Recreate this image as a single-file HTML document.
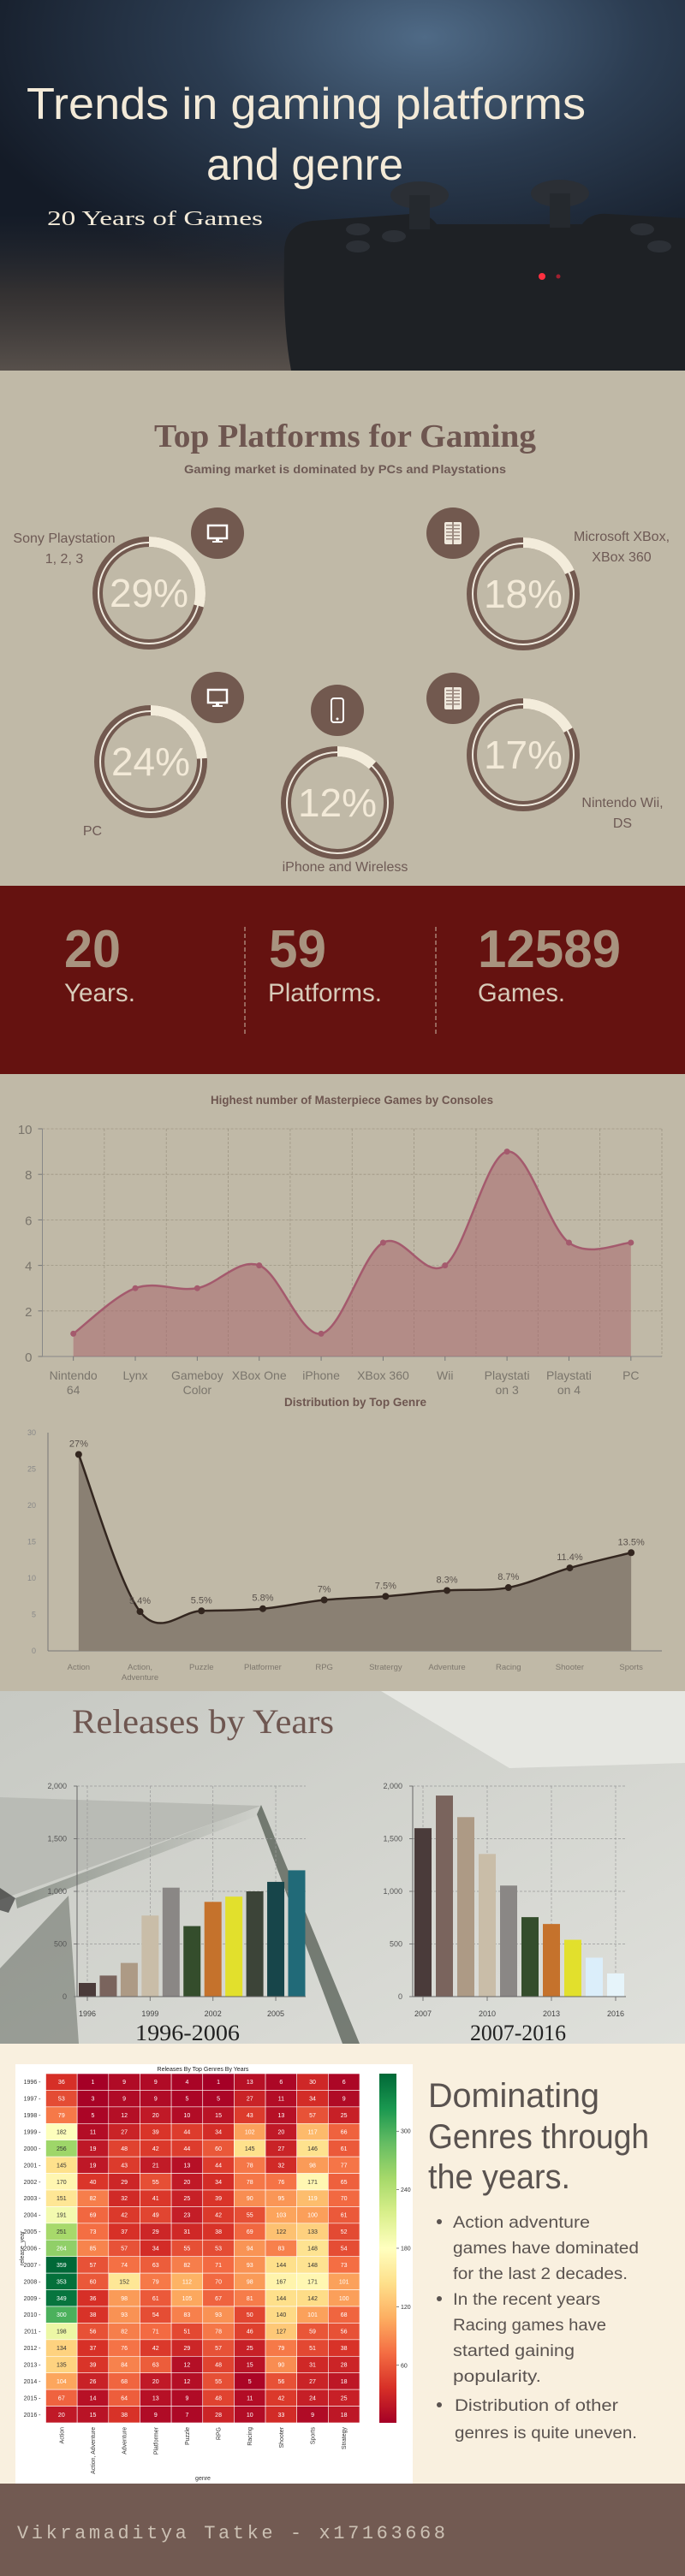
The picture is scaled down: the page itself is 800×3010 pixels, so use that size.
<!DOCTYPE html>
<html><head><meta charset="utf-8"><title>Trends in gaming platforms and genre</title>
<style>
html,body{margin:0;padding:0;background:#c0b9a7;}
svg{display:block;}
</style></head>
<body>
<svg id="page" width="800" height="3010" viewBox="0 0 800 3010" xmlns="http://www.w3.org/2000/svg" font-family="'Liberation Sans',sans-serif">
<defs>
<radialGradient id="hdrGlow" cx="0.62" cy="0.1" r="0.7">
<stop offset="0" stop-color="#4f6a86"/><stop offset="0.45" stop-color="#2c3d52"/><stop offset="1" stop-color="#141b27"/>
</radialGradient>
<linearGradient id="floor" x1="0" y1="0" x2="0" y2="1">
<stop offset="0" stop-color="#2a2d33" stop-opacity="0"/><stop offset="0.5" stop-color="#3b3634" stop-opacity="0.8"/><stop offset="1" stop-color="#57504b"/>
</linearGradient>
<linearGradient id="paper" x1="0" y1="0" x2="1" y2="1">
<stop offset="0" stop-color="#c7c9c3"/><stop offset="1" stop-color="#dfe0db"/>
</linearGradient>
<linearGradient id="shade" x1="0" y1="0" x2="1" y2="0">
<stop offset="0" stop-color="#1d2a1d" stop-opacity="0.7"/><stop offset="1" stop-color="#1d2a1d" stop-opacity="0"/>
</linearGradient>
<linearGradient id="cbar" x1="0" y1="1" x2="0" y2="0">
<stop offset="0" stop-color="#a50026"/><stop offset="0.1" stop-color="#d73027"/><stop offset="0.2" stop-color="#f46d43"/><stop offset="0.3" stop-color="#fdae61"/><stop offset="0.4" stop-color="#fee08b"/><stop offset="0.5" stop-color="#ffffbf"/><stop offset="0.6" stop-color="#d9ef8b"/><stop offset="0.7" stop-color="#a6d96a"/><stop offset="0.8" stop-color="#66bd63"/><stop offset="0.9" stop-color="#1a9850"/><stop offset="1" stop-color="#006837"/>
</linearGradient>
</defs>

<!-- HEADER -->
<g>
<rect x="0" y="0" width="800" height="433" fill="url(#hdrGlow)"/>
<rect x="0" y="250" width="800" height="183" fill="url(#floor)"/>
<g fill="#1e2125">
<path d="M332 300 Q330 262 365 258 L480 250 Q500 248 510 262 L680 262 Q690 248 710 250 L800 255 L800 433 L340 433 Q330 380 332 300 Z"/>
<ellipse cx="490" cy="228" rx="34" ry="16" fill="#2b2f35"/><rect x="478" y="228" width="24" height="40" fill="#25292e"/>
<ellipse cx="654" cy="226" rx="34" ry="16" fill="#2b2f35"/><rect x="642" y="226" width="24" height="40" fill="#25292e"/>
<ellipse cx="418" cy="268" rx="14" ry="7" fill="#2c3036"/><ellipse cx="460" cy="276" rx="14" ry="7" fill="#2c3036"/><ellipse cx="418" cy="288" rx="14" ry="7" fill="#2c3036"/>
<ellipse cx="750" cy="268" rx="14" ry="7" fill="#2c3036"/><ellipse cx="770" cy="288" rx="14" ry="7" fill="#2c3036"/>
<circle cx="633" cy="323" r="4" fill="#ff3040"/><circle cx="652" cy="323" r="2.5" fill="#a02030"/>
</g>
<text x="31" y="139" font-family="'Liberation Sans Narrow','Liberation Sans',sans-serif" font-size="52" fill="#f3ead8" textLength="653" lengthAdjust="spacingAndGlyphs">Trends in gaming platforms</text>
<text x="241" y="210" font-family="'Liberation Sans Narrow','Liberation Sans',sans-serif" font-size="52" fill="#f3ead8" textLength="230" lengthAdjust="spacingAndGlyphs">and genre</text>
<text x="55" y="263" font-family="'Liberation Serif',serif" font-size="24" fill="#f3ead8" textLength="252" lengthAdjust="spacingAndGlyphs">20 Years of Games</text>
</g>

<!-- PLATFORMS -->
<g>
<rect x="0" y="433" width="800" height="603" fill="#c0b9a7"/>
<text x="403" y="522" text-anchor="middle" font-family="'Liberation Serif',serif" font-weight="bold" font-size="38" fill="#6e5650" textLength="446" lengthAdjust="spacingAndGlyphs">Top Platforms for Gaming</text>
<text x="403" y="553" text-anchor="middle" font-size="14" font-weight="bold" fill="#6e5a55" textLength="376" lengthAdjust="spacingAndGlyphs">Gaming market is dominated by PCs and Playstations</text>
<g id="donuts"></g>
</g>

<!-- STATS -->
<g>
<rect x="0" y="1035" width="800" height="220" fill="#651210"/>
<line x1="286" y1="1083" x2="286" y2="1209" stroke="#cbb9a8" stroke-dasharray="5 3" stroke-width="1"/>
<line x1="509" y1="1083" x2="509" y2="1209" stroke="#cbb9a8" stroke-dasharray="5 3" stroke-width="1"/>
<text x="75" y="1130" font-size="62" font-weight="bold" fill="#a8937f" textLength="66" lengthAdjust="spacingAndGlyphs">20</text>
<text x="75" y="1170" font-size="30" fill="#d8cbb9" textLength="83" lengthAdjust="spacingAndGlyphs">Years.</text>
<text x="314" y="1130" font-size="62" font-weight="bold" fill="#a8937f" textLength="67" lengthAdjust="spacingAndGlyphs">59</text>
<text x="313" y="1170" font-size="30" fill="#d8cbb9" textLength="133" lengthAdjust="spacingAndGlyphs">Platforms.</text>
<text x="558" y="1130" font-size="62" font-weight="bold" fill="#a8937f" textLength="167" lengthAdjust="spacingAndGlyphs">12589</text>
<text x="558" y="1170" font-size="30" fill="#d8cbb9" textLength="102" lengthAdjust="spacingAndGlyphs">Games.</text>
</g>

<!-- CHARTS -->
<g>
<rect x="0" y="1255" width="800" height="721" fill="#c0b9a7"/>
<text x="411" y="1290" text-anchor="middle" font-size="14" font-weight="bold" fill="#6e5650" textLength="330" lengthAdjust="spacingAndGlyphs">Highest number of Masterpiece Games by Consoles</text>
<g id="chart1"></g>
<text x="415" y="1643" text-anchor="middle" font-size="14" font-weight="bold" fill="#6e5650" textLength="166" lengthAdjust="spacingAndGlyphs">Distribution by Top Genre</text>
<g id="chart2"></g>
</g>

<!-- RELEASES -->
<g>
<rect x="0" y="1976" width="800" height="412" fill="url(#paper)"/>
<polygon points="0,2100 305,2110 0,2220" fill="#b9bbb5"/>
<polygon points="445,1976 800,1976 800,2060 595,2066" fill="#e6e7e2"/>
<polygon points="18,2218 305,2109 310,2118 20,2230" fill="url(#shade)" opacity="0.5"/>
<polygon points="305,2109 420,2388 400,2388 300,2120" fill="#243024" opacity="0.55"/>
<polygon points="0,2300 80,2215 92,2388 0,2388" fill="#2a3328" opacity="0.35"/>
<polygon points="0,2206 18,2218 10,2235 0,2232" fill="#1a1a1a" opacity="0.6"/>
<text x="84" y="2025" font-family="'Liberation Serif',serif" font-size="40" fill="#6e5650" textLength="306" lengthAdjust="spacingAndGlyphs">Releases by Years</text>
<g id="relL"></g>
<g id="relR"></g>
<text x="219" y="2384" text-anchor="middle" font-family="'Liberation Serif',serif" font-size="26" fill="#222" textLength="122" lengthAdjust="spacingAndGlyphs">1996-2006</text>
<text x="605" y="2384" text-anchor="middle" font-family="'Liberation Serif',serif" font-size="26" fill="#222" textLength="112" lengthAdjust="spacingAndGlyphs">2007-2016</text>
</g>

<!-- HEATMAP SECTION -->
<g>
<rect x="0" y="2388" width="800" height="514" fill="#f9f0df"/>
<rect x="18" y="2412" width="464" height="490" fill="#ffffff"/>
<text x="237" y="2420" text-anchor="middle" font-size="7" fill="#222">Releases By Top Genres By Years</text>
<g id="heat"></g>
<rect x="443" y="2423" width="20" height="408" fill="url(#cbar)"/>
<g id="cbticks"></g>
<text transform="translate(28,2627) rotate(-90)" text-anchor="middle" font-size="7" fill="#333">release_year</text>
<text x="237" y="2898" text-anchor="middle" font-size="7" fill="#333">genre</text>
<g font-size="40" fill="#5a5350">
<text x="500" y="2462" textLength="200" lengthAdjust="spacingAndGlyphs">Dominating</text>
<text x="500" y="2510" textLength="258" lengthAdjust="spacingAndGlyphs">Genres through</text>
<text x="500" y="2557" textLength="166" lengthAdjust="spacingAndGlyphs">the years.</text>
</g>
<g font-size="19" fill="#5a5350">
<circle cx="513" cy="2596" r="3"/><circle cx="513" cy="2686" r="3"/><circle cx="513" cy="2810" r="3"/>
<text x="529" y="2603" textLength="160" lengthAdjust="spacingAndGlyphs">Action adventure</text>
<text x="529" y="2633" textLength="217" lengthAdjust="spacingAndGlyphs">games have dominated</text>
<text x="529" y="2663" textLength="204" lengthAdjust="spacingAndGlyphs">for the last 2 decades.</text>
<text x="529" y="2693" textLength="172" lengthAdjust="spacingAndGlyphs">In the recent years</text>
<text x="529" y="2723" textLength="179" lengthAdjust="spacingAndGlyphs">Racing games have</text>
<text x="529" y="2753" textLength="142" lengthAdjust="spacingAndGlyphs">started gaining</text>
<text x="529" y="2783" textLength="103" lengthAdjust="spacingAndGlyphs">popularity.</text>
<text x="531" y="2817" textLength="191" lengthAdjust="spacingAndGlyphs">Distribution of other</text>
<text x="531" y="2849" textLength="213" lengthAdjust="spacingAndGlyphs">genres is quite uneven.</text>
</g>
</g>

<!-- FOOTER -->
<g>
<rect x="0" y="2902" width="800" height="108" fill="#725a52"/>
<text x="20" y="2966" font-family="'Liberation Mono',monospace" font-size="22" fill="#cbc0b3" textLength="500" lengthAdjust="spacing">Vikramaditya Tatke - x17163668</text>
</g>
</svg>

<script>
// ---- donut data ----
const platformNames = [["Sony Playstation","1, 2, 3"],["Microsoft XBox,","XBox 360"],["PC"],["iPhone and Wireless"],["Nintendo Wii,","DS"]];
const platformShares = [29, 18, 24, 12, 17];
const platformIcons = ["monitor","tower","monitor","phone","tower"];

// ---- chart data ----
const consoles = [["Nintendo","64"],["Lynx"],["Gameboy","Color"],["XBox One"],["iPhone"],["XBox 360"],["Wii"],["Playstati","on 3"],["Playstati","on 4"],["PC"]];
const masterpieceCounts = [1, 3, 3, 4, 1, 5, 4, 9, 5, 5];
const masterpieceTicks = [0, 2, 4, 6, 8, 10];

const genres = [["Action"],["Action,","Adventure"],["Puzzle"],["Platformer"],["RPG"],["Stratergy"],["Adventure"],["Racing"],["Shooter"],["Sports"]];
const genreShares = [27, 5.4, 5.5, 5.8, 7, 7.5, 8.3, 8.7, 11.4, 13.5];
const genreLabels = ["27%","5.4%","5.5%","5.8%","7%","7.5%","8.3%","8.7%","11.4%","13.5%"];
const genreTicks = [0, 5, 10, 15, 20, 25, 30];

const yearsEarly = [1996,1997,1998,1999,2000,2001,2002,2003,2004,2005,2006];
const releasesEarly = [130, 200, 320, 770, 1035, 670, 900, 950, 1000, 1090, 1200];
const yearsLate = [2007,2008,2009,2010,2011,2012,2013,2014,2015,2016];
const releasesLate = [1600, 1910, 1705, 1355, 1055, 755, 690, 540, 370, 220];
const releaseTicks = [0, 500, 1000, 1500, 2000];
const releaseTickLabels = ["0","500","1,000","1,500","2,000"];

const heatYears = [1996,1997,1998,1999,2000,2001,2002,2003,2004,2005,2006,2007,2008,2009,2010,2011,2012,2013,2014,2015,2016];
const heatGenres = ["Action","Action, Adventure","Adventure","Platformer","Puzzle","RPG","Racing","Shooter","Sports","Strategy"];
const heatValues = [
[36,1,9,9,4,1,13,6,30,6],
[53,3,9,9,5,5,27,11,34,9],
[79,5,12,20,10,15,43,13,57,25],
[182,11,27,39,44,34,102,20,117,66],
[256,19,48,42,44,60,145,27,146,61],
[145,19,43,21,13,44,78,32,98,77],
[170,40,29,55,20,34,78,76,171,65],
[151,82,32,41,25,39,90,95,119,70],
[191,69,42,49,23,42,55,103,100,61],
[251,73,37,29,31,38,69,122,133,52],
[264,85,57,34,55,53,94,83,148,54],
[359,57,74,63,82,71,93,144,148,73],
[353,60,152,79,112,70,98,167,171,101],
[349,36,98,61,105,67,81,144,142,100],
[300,38,93,54,83,93,50,140,101,68],
[198,56,82,71,51,78,46,127,59,56],
[134,37,76,42,29,57,25,79,51,38],
[135,39,84,63,12,48,15,90,31,28],
[104,26,68,20,12,55,5,56,27,18],
[67,14,64,13,9,48,11,42,24,25],
[20,15,38,9,7,28,10,33,9,18]];
const colorbarTicks = [60, 120, 180, 240, 300];

const NS = "http://www.w3.org/2000/svg";
function mk(parent, tag, attrs, txt){
  const e = document.createElementNS(NS, tag);
  for (const k in attrs) e.setAttribute(k, attrs[k]);
  if (txt !== undefined) e.textContent = txt;
  parent.appendChild(e);
  return e;
}
function smoothPath(pts){
  let d = "M" + pts[0][0] + "," + pts[0][1];
  for (let i = 0; i < pts.length - 1; i++){
    const p0 = pts[Math.max(i-1,0)], p1 = pts[i], p2 = pts[i+1], p3 = pts[Math.min(i+2,pts.length-1)];
    const c1x = p1[0] + (p2[0]-p0[0])/6, c1y = p1[1] + (p2[1]-p0[1])/6;
    const c2x = p2[0] - (p3[0]-p1[0])/6, c2y = p2[1] - (p3[1]-p1[1])/6;
    d += " C" + c1x + "," + c1y + " " + c2x + "," + c2y + " " + p2[0] + "," + p2[1];
  }
  return d;
}

// ---- donuts ----
(function(){
  const g = document.getElementById("donuts");
  const centers = [[174,693],[611,694],[176,890],[394,938],[611,882]];
  const icons = [[254,623],[529,623],[254,815],[394,830],[529,816]];
  const labels = [[75,634,"middle"],[726,632,"middle"],[108,976,"middle"],[403,1018,"middle"],[727,943,"middle"]];
  platformShares.forEach((p, i) => {
    const [cx, cy] = centers[i];
    const grp = mk(g, "g", {});
    
    
    const r = 60, C = 2*Math.PI*r;
    mk(grp, "circle", {cx, cy, r, fill:"none", stroke:"#72594f", "stroke-width":12});
    mk(grp, "circle", {cx, cy, r:59, fill:"none", stroke:"#efe9dd", "stroke-width":2});
    const arc = mk(grp, "circle", {cx, cy, r, fill:"none", stroke:"#f3ecdb", "stroke-width":12,
      "stroke-dasharray": (C*p/100) + " " + C, transform:"rotate(-90 "+cx+" "+cy+")"});
    
    
    const t = mk(grp, "text", {x:cx, y:cy+16, "text-anchor":"middle", "font-size":46,
      "font-family":"'Liberation Sans Narrow','Liberation Sans',sans-serif", fill:"#f3ead8"}, p + "%");
    
    
    const [ix, iy] = icons[i];
    const ig = mk(g, "g", {});
    
    
    mk(ig, "ellipse", {cx:ix, cy:iy, rx:31, ry:30, fill:"#72594f"});
    if (platformIcons[i] === "monitor"){
      mk(ig, "rect", {x:ix-11, y:iy-9, width:22, height:15, fill:"none", stroke:"#fff", "stroke-width":2.5});
      mk(ig, "rect", {x:ix-2, y:iy+6, width:4, height:4, fill:"#fff"});
      mk(ig, "rect", {x:ix-6, y:iy+9, width:12, height:2, fill:"#fff"});
    } else if (platformIcons[i] === "tower"){
      mk(ig, "rect", {x:ix-10, y:iy-13, width:20, height:26, rx:2, fill:"#efe8dc"});
      for (let k=0;k<5;k++) mk(ig, "rect", {x:ix-8, y:iy-10+k*4, width:16, height:1.5, fill:"#9c8a80"});
      mk(ig, "rect", {x:ix-1, y:iy-13, width:2, height:26, fill:"#9c8a80"});
    } else {
      mk(ig, "rect", {x:ix-7, y:iy-14, width:14, height:28, rx:3, fill:"none", stroke:"#fff", "stroke-width":2});
      mk(ig, "circle", {cx:ix, cy:iy+10, r:1.5, fill:"#fff"});
    }
    const [lx, ly, an] = labels[i];
    platformNames[i].forEach((ln, k) => {
      const lt = mk(g, "text", {x:lx, y:ly + k*24, "text-anchor":an, "font-size":16, fill:"#6e5a55"}, ln);
      
      
    });
  });
})();

// ---- chart 1 ----
(function(){
  const g = document.getElementById("chart1");
  const x0 = 49.5, x1 = 773, yTop = 1319, yBot = 1585, vmax = 10;
  const bw = (x1 - x0) / consoles.length;
  const xs = i => x0 + bw*(i+0.5);
  const ys = v => yBot - v/vmax*(yBot-yTop);
  for (let i=0;i<=consoles.length;i++){
    mk(g, "line", {x1:x0+bw*i, y1:yTop, x2:x0+bw*i, y2:yBot, stroke:"#9e9684", "stroke-dasharray":"3 2", "stroke-width":0.8});
  }
  masterpieceTicks.forEach(t => {
    if (t>0) mk(g, "line", {x1:x0, y1:ys(t), x2:x1, y2:ys(t), stroke:"#9e9684", "stroke-dasharray":"3 2", "stroke-width":0.8});
    mk(g, "line", {x1:x0-5, y1:ys(t), x2:x0, y2:ys(t), stroke:"#777"});
    const tl = mk(g, "text", {x:x0-12, y:ys(t)+6, "text-anchor":"end", "font-size":15, fill:"#7a756c"}, t);
    
    
  });
  mk(g, "line", {x1:x0, y1:yTop, x2:x0, y2:yBot, stroke:"#888"});
  mk(g, "line", {x1:x0, y1:yBot, x2:x1, y2:yBot, stroke:"#888"});
  const pts = masterpieceCounts.map((v,i)=>[xs(i), ys(v)]);
  const line = smoothPath(pts);
  const area = mk(g, "path", {d: line + " L" + pts[pts.length-1][0] + "," + yBot + " L" + pts[0][0] + "," + yBot + " Z", fill:"#a8686e", "fill-opacity":0.55});
  
  
  const ln = mk(g, "path", {d: line, fill:"none", stroke:"#a45a6d", "stroke-width":2.5});
  
  
  pts.forEach((p,i) => {
    mk(g, "line", {x1:p[0], y1:yBot, x2:p[0], y2:yBot+5, stroke:"#777"});
    const c = mk(g, "circle", {cx:p[0], cy:p[1], r:3.5, fill:"#a45a6d"});
    
    
    consoles[i].forEach((s,k) => {
      const t = mk(g, "text", {x:p[0], y:yBot+27+k*17, "text-anchor":"middle", "font-size":14, fill:"#7a756c"}, s);
      
      
    });
  });
})();

// ---- chart 2 ----
(function(){
  const g = document.getElementById("chart2");
  const x0 = 56, x1 = 773, yTop = 1674, yBot = 1929, vmax = 30;
  const bw = (x1 - x0) / genres.length;
  const xs = i => x0 + bw*(i+0.5);
  const ys = v => yBot - v/vmax*(yBot-yTop);
  mk(g, "line", {x1:x0, y1:yTop, x2:x0, y2:yBot, stroke:"#777"});
  mk(g, "line", {x1:x0, y1:yBot, x2:x1, y2:yBot, stroke:"#777"});
  genreTicks.forEach(t => {
    const tl = mk(g, "text", {x:x0-14, y:ys(t)+3, "text-anchor":"end", "font-size":9, fill:"#888"}, t);
    
    
  });
  const pts = genreShares.map((v,i)=>[xs(i), ys(v)]);
  const line = smoothPath(pts);
  const area = mk(g, "path", {d: line + " L" + pts[pts.length-1][0] + "," + yBot + " L" + pts[0][0] + "," + yBot + " Z", fill:"#8a8073"});
  
  
  const ln = mk(g, "path", {d: line, fill:"none", stroke:"#33261f", "stroke-width":2.5});
  
  
  pts.forEach((p,i) => {
    const c = mk(g, "circle", {cx:p[0], cy:p[1], r:4, fill:"#33261f"});
    
    
    const vl = mk(g, "text", {x:p[0], y:p[1]-9, "text-anchor":"middle", "font-size":11, fill:"#5a524c"}, genreLabels[i]);
    
    
    genres[i].forEach((s,k) => {
      const t = mk(g, "text", {x:p[0], y:yBot+22+k*12, "text-anchor":"middle", "font-size":9.5, fill:"#7d776d"}, s);
      
      
    });
  });
})();

// ---- releases ----
function releasesChart(id, years, vals, colors, axisX, firstCenter, step, rightX, tickEvery){
  const g = document.getElementById(id);
  const yTop = 2087, yBot = 2333, vmax = 2000;
  const ys = v => yBot - v/vmax*(yBot-yTop);
  const xs = i => firstCenter + step*i;
  releaseTicks.forEach((t,k) => {
    if (t>0) mk(g, "line", {x1:axisX, y1:ys(t), x2:rightX, y2:ys(t), stroke:"#999", "stroke-dasharray":"3 2", "stroke-width":0.7});
    mk(g, "line", {x1:axisX-4, y1:ys(t), x2:axisX, y2:ys(t), stroke:"#777"});
    const tl = mk(g, "text", {x:axisX-12, y:ys(t)+3, "text-anchor":"end", "font-size":9, fill:"#555",
      "font-family":"'Liberation Sans Narrow','Liberation Sans',sans-serif"}, releaseTickLabels[k]);
    
    
  });
  years.forEach((yr,i) => {
    if (i % tickEvery === 0){
      mk(g, "line", {x1:xs(i), y1:yTop, x2:xs(i), y2:yBot, stroke:"#999", "stroke-dasharray":"3 2", "stroke-width":0.7});
      mk(g, "line", {x1:xs(i), y1:yBot, x2:xs(i), y2:yBot+5, stroke:"#777"});
      const tl = mk(g, "text", {x:xs(i), y:yBot+23, "text-anchor":"middle", "font-size":9, fill:"#444",
        "font-family":"'Liberation Sans Narrow','Liberation Sans',sans-serif"}, yr);
      
      
    }
  });
  vals.forEach((v,i) => {
    const b = mk(g, "rect", {x:xs(i)-10, y:ys(v), width:20, height:yBot-ys(v), fill:colors[i]});
    
    
  });
  mk(g, "line", {x1:axisX, y1:yTop, x2:axisX, y2:yBot, stroke:"#666"});
  mk(g, "line", {x1:axisX, y1:yBot, x2:rightX, y2:yBot, stroke:"#666"});
}
releasesChart("relL", yearsEarly, releasesEarly,
  ["#4a3b3a","#7a645d","#ad9a85","#c9bda8","#8a8785","#344d2c","#c5722c","#e2e02c","#3c4438","#17454a","#216a78"],
  90, 102, 24.45, 357, 3);
releasesChart("relR", yearsLate, releasesLate,
  ["#4a3b3a","#7a645d","#ad9a85","#c9bda8","#8a8785","#344d2c","#c5722c","#e2e02c","#dbeefa","#e6f4fa"],
  482, 494, 25, 731, 3);

// ---- heatmap ----
(function(){
  const g = document.getElementById("heat");
  const stops = [[165,0,38],[215,48,39],[244,109,67],[253,174,97],[254,224,139],[255,255,191],[217,239,139],[166,217,106],[102,189,99],[26,152,80],[0,104,55]];
  const vmin = 1, vmax = 359;
  function col(v){
    let t = Math.max(0, Math.min(1, (v - vmin)/(vmax - vmin))) * 10;
    const i = Math.min(9, Math.floor(t)), f = t - i;
    const a = stops[i], b = stops[i+1];
    return "rgb(" + a.map((c,k)=>Math.round(c + (b[k]-c)*f)).join(",") + ")";
  }
  const x0 = 53.5, y0 = 2423, cw = (420 - 53.5)/heatGenres.length, ch = (2831 - 2423)/heatYears.length;
  heatValues.forEach((row, r) => {
    const yl = mk(g, "text", {x:x0-6, y:y0+ch*(r+0.5)+2.5, "text-anchor":"end", "font-size":7, fill:"#333"}, heatYears[r] + " -");
    
    
    row.forEach((v, c) => {
      const cell = mk(g, "rect", {x:x0+c*cw, y:y0+r*ch, width:cw, height:ch, fill:col(v), stroke:"#fff", "stroke-width":0.6});
      
      
      const dark = v > 120 && v < 260;
      const tx = mk(g, "text", {x:x0+(c+0.5)*cw, y:y0+(r+0.5)*ch+2.5, "text-anchor":"middle", "font-size":7, fill: dark ? "#333" : "#fff"}, v);
      
      
    });
  });
  heatGenres.forEach((gn, c) => {
    const cx = x0 + (c+0.5)*cw;
    const t = mk(g, "text", {transform:"translate(" + (cx+2.5) + "," + (2836) + ") rotate(-90)", "text-anchor":"end", "font-size":7, fill:"#333"}, gn);
    
    
  });
  const cb = document.getElementById("cbticks");
  colorbarTicks.forEach(v => {
    const y = 2831 - (v - vmin)/(vmax - vmin)*408;
    mk(cb, "line", {x1:463, y1:y, x2:466, y2:y, stroke:"#333", "stroke-width":0.6});
    const t = mk(cb, "text", {x:468, y:y+2.5, "font-size":7, fill:"#333"}, v);
    
    
  });
})();
</script>
</body></html>
